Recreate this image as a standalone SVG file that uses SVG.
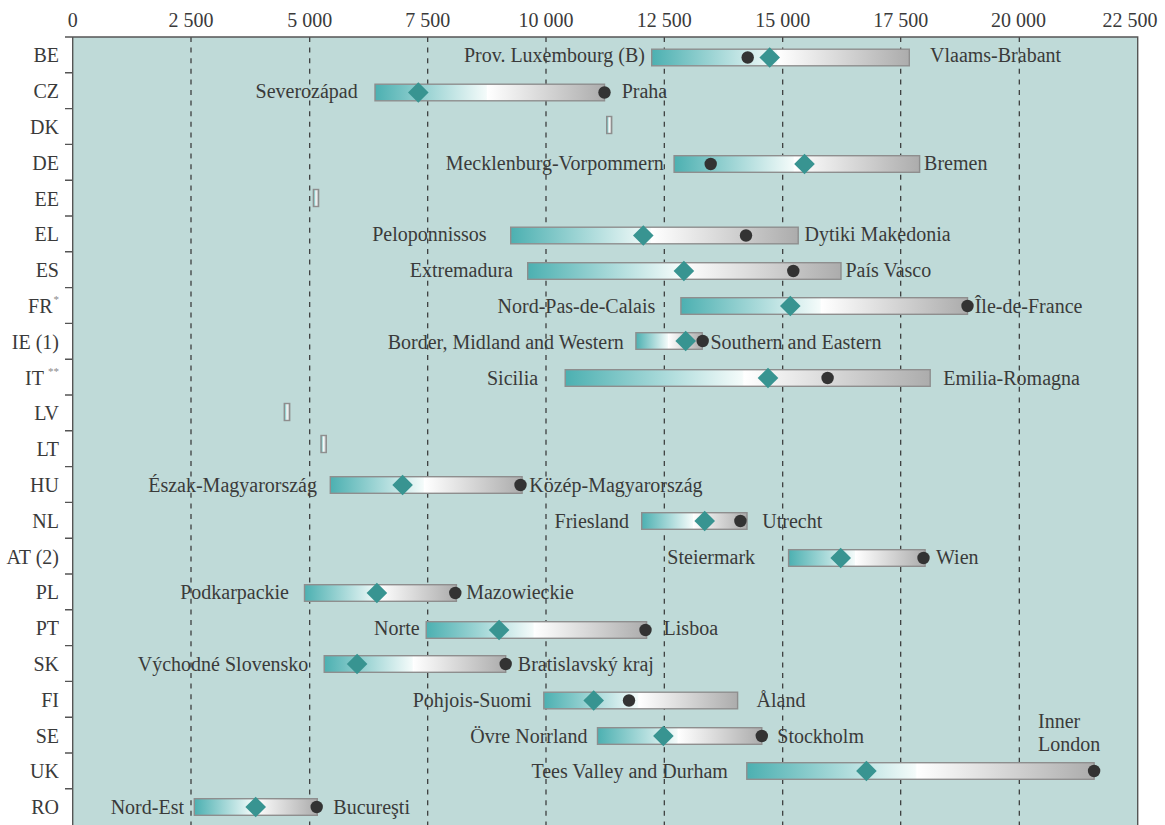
<svg xmlns="http://www.w3.org/2000/svg" xmlns:xlink="http://www.w3.org/1999/xlink" width="1165" height="825" viewBox="0 0 1165 825">
<style>
text{font-family:"Liberation Serif","DejaVu Serif",serif;font-size:20px;fill:#3a3a3a}
.ax{text-anchor:middle}
.rl{text-anchor:end}
.sup{font-size:11px;fill:#8a8a8a}
.bar{fill:url(#bg);stroke:#8e8e8e;stroke-width:1.4}
.dia{fill:#389491}
.dot{fill:#333333}
.grid{stroke:#333333;stroke-width:1.2;stroke-dasharray:5 5.6;fill:none}
.frame{stroke:#555555;stroke-width:1.4;fill:none}
</style>
<defs>
<linearGradient id="bg" x1="0" y1="0" x2="1" y2="0">
<stop offset="0" stop-color="#4cb0b1"/>
<stop offset="0.485" stop-color="#f4fbfa"/>
<stop offset="0.49" stop-color="#ffffff"/>
<stop offset="1" stop-color="#acacac"/>
</linearGradient>
<path id="d" d="M-10.3 0L0-10.3L10.3 0L0 10.3Z" class="dia"/>
</defs>
<rect x="0" y="0" width="1165" height="825" fill="#ffffff"/>
<rect x="72.7" y="37" width="1065" height="788" fill="#bfdad8"/>
<g id="axis-labels">
<text class="ax" x="72.7" y="26.7">0</text>
<text class="ax" x="191" y="26.7">2 500</text>
<text class="ax" x="309.7" y="26.7">5 000</text>
<text class="ax" x="427.7" y="26.7">7 500</text>
<text class="ax" x="546" y="26.7">10 000</text>
<text class="ax" x="664.3" y="26.7">12 500</text>
<text class="ax" x="782.7" y="26.7">15 000</text>
<text class="ax" x="900.7" y="26.7">17 500</text>
<text class="ax" x="1018.5" y="26.7">20 000</text>
<text class="ax" x="1130" y="26.7">22 500</text>
</g>
<g id="connectors">
<path class="grid" d="M191 37V825M309.7 37V825M427.7 37V825M546 37V825M664.3 37V825M782.7 37V825M900.7 37V825M1019.3 37V825"/>
<path class="frame" d="M65 37H1137.7V825M72.7 37V825M65 72.8H72.7M65 108.6H72.7M65 144.4H72.7M65 180.2H72.7M65 216H72.7M65 251.8H72.7M65 287.6H72.7M65 323.4H72.7M65 359.2H72.7M65 395H72.7M65 430.8H72.7M65 466.6H72.7M65 502.4H72.7M65 538.2H72.7M65 574H72.7M65 609.8H72.7M65 645.6H72.7M65 681.4H72.7M65 717.2H72.7M65 753H72.7M65 788.8H72.7"/>
</g>
<g id="row-labels">
<text class="rl" x="59" y="62.3">BE</text>
<text class="rl" x="59" y="98.1">CZ</text>
<text class="rl" x="59" y="133.9">DK</text>
<text class="rl" x="59" y="169.7">DE</text>
<text class="rl" x="59" y="205.5">EE</text>
<text class="rl" x="59" y="241.3">EL</text>
<text class="rl" x="59" y="277.1">ES</text>
<text class="rl" x="59" y="312.9">FR<tspan class="sup" dx="1" dy="-10">*</tspan></text>
<text class="rl" x="59" y="348.7">IE (1)</text>
<text class="rl" x="59" y="384.5">IT<tspan class="sup" dx="4" dy="-10">**</tspan></text>
<text class="rl" x="59" y="420.3">LV</text>
<text class="rl" x="59" y="456.1">LT</text>
<text class="rl" x="59" y="491.9">HU</text>
<text class="rl" x="59" y="527.7">NL</text>
<text class="rl" x="59" y="563.5">AT (2)</text>
<text class="rl" x="59" y="599.3">PL</text>
<text class="rl" x="59" y="635.1">PT</text>
<text class="rl" x="59" y="670.9">SK</text>
<text class="rl" x="59" y="706.7">FI</text>
<text class="rl" x="59" y="742.5">SE</text>
<text class="rl" x="59" y="778.3">UK</text>
<text class="rl" x="59" y="814.1">RO</text>
</g>
<g id="BE">
<rect class="bar" x="651.7" y="49.2" width="257.6" height="16.6"/>
<circle class="dot" cx="747.7" cy="57.5" r="6.2"/>
<use href="#d" x="769.7" y="57.5"/>
<text class="rl" x="645" y="62.3">Prov. Luxembourg (B)</text>
<text x="930" y="62.3">Vlaams-Brabant</text>
</g>
<g id="CZ">
<rect class="bar" x="375" y="84.2" width="229.5" height="16.6"/>
<use href="#d" x="418.3" y="92.5"/>
<circle class="dot" cx="604.5" cy="92.5" r="6.2"/>
<text class="rl" x="357.7" y="98.1">Severozápad</text>
<text x="621.7" y="98.1">Praha</text>
</g>
<g id="DK">
<rect class="bar" x="606.7" y="116.5" width="5" height="17"/>
</g>
<g id="DE">
<rect class="bar" x="674.1" y="155.7" width="245.5" height="16.6"/>
<circle class="dot" cx="710.7" cy="164" r="6.2"/>
<use href="#d" x="804.5" y="164"/>
<text class="rl" x="663.8" y="169.7">Mecklenburg-Vorpommern</text>
<text x="924.1" y="169.7">Bremen</text>
</g>
<g id="EE">
<rect class="bar" x="313.4" y="189.5" width="5.2" height="17"/>
</g>
<g id="EL">
<rect class="bar" x="510.7" y="227.2" width="287.5" height="16.6"/>
<use href="#d" x="643.3" y="235.5"/>
<circle class="dot" cx="746" cy="235.5" r="6.2"/>
<text class="rl" x="486.6" y="241.3">Peloponnissos</text>
<text x="804.5" y="241.3">Dytiki Makedonia</text>
</g>
<g id="ES">
<rect class="bar" x="527.7" y="262.7" width="313.3" height="16.6"/>
<use href="#d" x="683.9" y="271"/>
<circle class="dot" cx="793.3" cy="271" r="6.2"/>
<text class="rl" x="513" y="277.1">Extremadura</text>
<text x="845.5" y="277.1">País Vasco</text>
</g>
<g id="FR">
<rect class="bar" x="680.9" y="297.7" width="286.6" height="16.6"/>
<use href="#d" x="790.3" y="306"/>
<circle class="dot" cx="967.5" cy="306" r="6.2"/>
<text class="rl" x="655.3" y="312.9">Nord-Pas-de-Calais</text>
<text x="974.7" y="312.9">Île-de-France</text>
</g>
<g id="IE">
<rect class="bar" x="635.9" y="332.7" width="66.3" height="16.6"/>
<use href="#d" x="685.7" y="341"/>
<circle class="dot" cx="702.7" cy="341" r="6.2"/>
<text class="rl" x="623.8" y="348.7">Border, Midland and Western</text>
<text x="710.4" y="348.7">Southern and Eastern</text>
</g>
<g id="IT">
<rect class="bar" x="565.2" y="369.7" width="365" height="16.6"/>
<use href="#d" x="768" y="378"/>
<circle class="dot" cx="827.6" cy="378" r="6.2"/>
<text class="rl" x="538.1" y="384.5">Sicilia</text>
<text x="943.3" y="384.5">Emilia-Romagna</text>
</g>
<g id="LV">
<rect class="bar" x="284.3" y="403.5" width="5.4" height="17"/>
</g>
<g id="LT">
<rect class="bar" x="321" y="435.5" width="5.3" height="17"/>
</g>
<g id="HU">
<rect class="bar" x="330.3" y="476.7" width="191.8" height="16.6"/>
<use href="#d" x="402.6" y="485"/>
<circle class="dot" cx="520.5" cy="485" r="6.2"/>
<text class="rl" x="317" y="491.9">Észak-Magyarország</text>
<text x="529.3" y="491.9">Közép-Magyarország</text>
</g>
<g id="NL">
<rect class="bar" x="641.7" y="512.7" width="105.3" height="16.6"/>
<use href="#d" x="704.7" y="521"/>
<circle class="dot" cx="740.4" cy="521" r="6.2"/>
<text class="rl" x="629" y="527.7">Friesland</text>
<text x="762.3" y="527.7">Utrecht</text>
</g>
<g id="AT">
<rect class="bar" x="788.6" y="549.7" width="136.5" height="16.6"/>
<use href="#d" x="840.7" y="558"/>
<circle class="dot" cx="923.5" cy="558" r="6.2"/>
<text class="rl" x="755.1" y="563.5">Steiermark</text>
<text x="936" y="563.5">Wien</text>
</g>
<g id="PL">
<rect class="bar" x="304.5" y="584.7" width="151.9" height="16.6"/>
<use href="#d" x="376.9" y="593"/>
<circle class="dot" cx="455.3" cy="593" r="6.2"/>
<text class="rl" x="289" y="599.3">Podkarpackie</text>
<text x="466.2" y="599.3">Mazowieckie</text>
</g>
<g id="PT">
<rect class="bar" x="426.2" y="621.7" width="220.4" height="16.6"/>
<use href="#d" x="499.1" y="630"/>
<circle class="dot" cx="645.5" cy="630" r="6.2"/>
<text class="rl" x="419.6" y="635.1">Norte</text>
<text x="663.6" y="635.1">Lisboa</text>
</g>
<g id="SK">
<rect class="bar" x="324.2" y="655.7" width="181.5" height="16.6"/>
<use href="#d" x="357.1" y="664"/>
<circle class="dot" cx="505.7" cy="664" r="6.2"/>
<text class="rl" x="308.3" y="670.9">Východné Slovensko</text>
<text x="517.8" y="670.9">Bratislavský kraj</text>
</g>
<g id="FI">
<rect class="bar" x="543.8" y="692.2" width="193.8" height="16.6"/>
<use href="#d" x="593.7" y="700.5"/>
<circle class="dot" cx="629" cy="700.5" r="6.2"/>
<text class="rl" x="531.6" y="706.7">Pohjois-Suomi</text>
<text x="756.5" y="706.7">Åland</text>
</g>
<g id="SE">
<rect class="bar" x="597.5" y="727.7" width="164.3" height="16.6"/>
<use href="#d" x="663.4" y="736"/>
<circle class="dot" cx="761.8" cy="736" r="6.2"/>
<text class="rl" x="587.4" y="742.5">Övre Norrland</text>
<text x="777.3" y="742.5">Stockholm</text>
</g>
<g id="UK">
<rect class="bar" x="746.8" y="762.7" width="347.3" height="16.6"/>
<use href="#d" x="866.4" y="771"/>
<circle class="dot" cx="1094.1" cy="771" r="6.2"/>
<text class="rl" x="727.9" y="778.3">Tees Valley and Durham</text>
<text x="1038" y="728.3">Inner</text>
<text x="1038" y="750.7">London</text>
</g>
<g id="RO">
<rect class="bar" x="194.3" y="798.7" width="123" height="16.6"/>
<use href="#d" x="255.7" y="807"/>
<circle class="dot" cx="316.7" cy="807" r="6.2"/>
<text class="rl" x="184" y="814.1">Nord-Est</text>
<text x="333.3" y="814.1">Bucureşti</text>
</g>
</svg>
